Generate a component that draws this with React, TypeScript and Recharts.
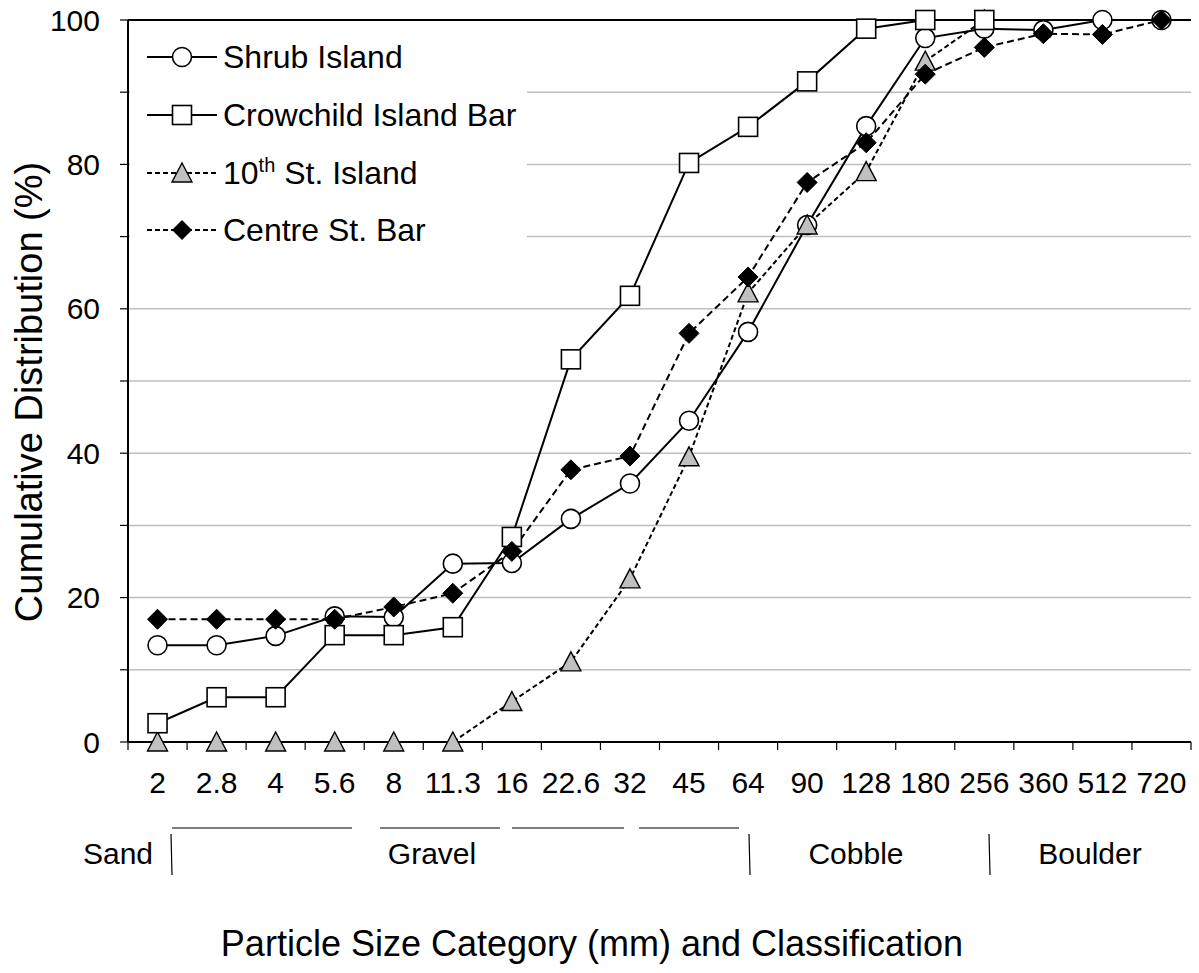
import React from 'react';
import { LineChart, Line, XAxis, YAxis, CartesianGrid, ReferenceLine } from 'recharts';

const SIZES = ['2', '2.8', '4', '5.6', '8', '11.3', '16', '22.6', '32', '45', '64', '90', '128', '180', '256', '360', '512', '720'];
const SHRUB = [13.4, 13.4, 14.7, 17.4, 17.3, 24.7, 24.8, 30.9, 35.8, 44.5, 56.8, 71.6, 85.3, 97.5, 98.8, 98.6, 100, 100];
const CROWCHILD = [2.6, 6.2, 6.2, 14.8, 14.8, 15.9, 28.4, 53.0, 61.8, 80.2, 85.2, 91.5, 98.8, 100, 100, null, null, null];
const TENTH = [0, 0, 0, 0, 0, 0, 5.6, 11.1, 22.6, 39.5, 62.2, 71.6, 79.0, 94.3, 100, null, null, null];
const CENTRE = [17.0, 17.0, 17.0, 17.0, 18.7, 20.6, 26.4, 37.7, 39.6, 56.6, 64.4, 77.5, 83.0, 92.5, 96.2, 98.1, 98.0, 100];
const Y_TICKS = [0, 10, 20, 30, 40, 50, 60, 70, 80, 90, 100];

const data = SIZES.map((s, i) => ({
  size: s,
  shrub: SHRUB[i],
  crow: CROWCHILD[i],
  tenth: TENTH[i],
  centre: CENTRE[i],
}));

const FONT = '"Liberation Sans", Arial, sans-serif';
const W = 1199;
const H = 973;
const LEFT = 128;
const RIGHT = 1191;
const BAND = (RIGHT - LEFT) / 18;

const CircleDot = (p: any) => {
  if (p.value == null || p.cy == null) return <g key={p.key} />;
  return <circle key={p.key} cx={p.cx} cy={p.cy} r={9.5} fill="#fff" stroke="#000" strokeWidth={1.6} />;
};
const SquareDot = (p: any) => {
  if (p.value == null || p.cy == null) return <g key={p.key} />;
  return <rect key={p.key} x={p.cx - 9.5} y={p.cy - 9.5} width={19} height={19} fill="#fff" stroke="#000" strokeWidth={1.6} />;
};
const TriDot = (p: any) => {
  if (p.value == null || p.cy == null) return <g key={p.key} />;
  const { cx, cy } = p;
  return <path key={p.key} d={`M${cx},${cy - 10} L${cx + 10},${cy + 9} L${cx - 10},${cy + 9} Z`} fill="#c0c0c0" stroke="#000" strokeWidth={1.4} />;
};
const DiaDot = (p: any) => {
  if (p.value == null || p.cy == null) return <g key={p.key} />;
  const { cx, cy } = p;
  return <path key={p.key} d={`M${cx},${cy - 10} L${cx + 10},${cy} L${cx},${cy + 10} L${cx - 10},${cy} Z`} fill="#000" stroke="#000" strokeWidth={1} />;
};

const XTick = (p: any) => {
  const { x, y, payload, index } = p;
  const bx = x - BAND / 2;
  return (
    <g>
      <line x1={bx} x2={bx} y1={y} y2={y + 8} stroke="#000" strokeWidth={1.2} />
      {index === SIZES.length - 1 && (
        <line x1={x + BAND / 2} x2={x + BAND / 2} y1={y} y2={y + 8} stroke="#000" strokeWidth={1.2} />
      )}
      <text x={x} y={y + 51} textAnchor="middle" fontSize={30} fontFamily={FONT} fill="#000">
        {payload.value}
      </text>
    </g>
  );
};

const LegendItem = ({ y, dash, marker, children }: any) => (
  <g>
    <line x1={147} x2={217} y1={y} y2={y} stroke="#000" strokeWidth={2} strokeDasharray={dash} />
    {marker === 'circle' && <circle cx={182} cy={y} r={9.5} fill="#fff" stroke="#000" strokeWidth={1.6} />}
    {marker === 'square' && <rect x={172.5} y={y - 9.5} width={19} height={19} fill="#fff" stroke="#000" strokeWidth={1.6} />}
    {marker === 'tri' && <path d={`M182,${y - 10} L192,${y + 9} L172,${y + 9} Z`} fill="#c0c0c0" stroke="#000" strokeWidth={1.4} />}
    {marker === 'dia' && <path d={`M182,${y - 10} L192,${y} L182,${y + 10} L172,${y} Z`} fill="#000" />}
    <text x={223} y={y + 11} fontSize={32} fontFamily={FONT} fill="#000">{children}</text>
  </g>
);

export default function App() {
  return (
    <div style={{ position: 'absolute', left: 0, top: 0, width: W, height: H, background: '#fff' }}>
      <LineChart width={W} height={H} data={data} margin={{ top: 20, right: W - RIGHT, bottom: 191, left: 0 }}>
        <CartesianGrid vertical={false} stroke="#bfbfbf" strokeWidth={1.5} />
        <XAxis
          dataKey="size"
          type="category"
          height={40}
          padding={{ left: BAND / 2, right: BAND / 2 }}
          tickSize={0}
          tickMargin={0}
          tick={<XTick />}
          interval={0}
          axisLine={{ stroke: '#000', strokeWidth: 2 }}
        />
        <YAxis
          domain={[0, 100]}
          ticks={Y_TICKS}
          width={LEFT}
          tickSize={8}
          tickMargin={20}
          interval={0}
          tickFormatter={(v: number) => (v % 20 === 0 ? String(v) : '')}
          tick={{ fill: '#000', fontSize: 30, fontFamily: FONT }}
          tickLine={{ stroke: '#000', strokeWidth: 1.2 }}
          axisLine={{ stroke: '#000', strokeWidth: 2 }}
        />
        <YAxis
          yAxisId="right"
          orientation="right"
          domain={[0, 100]}
          width={0}
          tick={false}
          tickLine={false}
          axisLine={{ stroke: '#000', strokeWidth: 2 }}
        />
        <ReferenceLine y={100} stroke="#000" strokeWidth={2} />
        <Line dataKey="shrub" stroke="#000" strokeWidth={2} dot={CircleDot} isAnimationActive={false} />
        <Line dataKey="tenth" stroke="#000" strokeWidth={2} strokeDasharray="5 3" dot={TriDot} isAnimationActive={false} />
        <Line dataKey="crow" stroke="#000" strokeWidth={2} dot={SquareDot} isAnimationActive={false} />
        <Line dataKey="centre" stroke="#000" strokeWidth={2} strokeDasharray="7 4" dot={DiaDot} isAnimationActive={false} />
      </LineChart>
      <svg width={W} height={H} style={{ position: 'absolute', left: 0, top: 0, pointerEvents: 'none' }}>
        <rect x={130} y={22} width={397} height={246} fill="#fff" />
        <LegendItem y={57} marker="circle">Shrub Island</LegendItem>
        <LegendItem y={115} marker="square">Crowchild Island Bar</LegendItem>
        <LegendItem y={173} marker="tri" dash="5 3">
          10<tspan fontSize={20} dy={-12}>th</tspan><tspan dy={12}> St. Island</tspan>
        </LegendItem>
        <LegendItem y={230} marker="dia" dash="5 3">Centre St. Bar</LegendItem>

        <g stroke="#000" strokeWidth={1.2}>
          <line x1={172} x2={352} y1={828} y2={828} />
          <line x1={380} x2={500} y1={828} y2={828} />
          <line x1={512} x2={624} y1={828} y2={828} />
          <line x1={639} x2={739} y1={828} y2={828} />
          <line x1={171} x2={172} y1={834} y2={875} />
          <line x1={749} x2={750} y1={834} y2={875} />
          <line x1={989} x2={990} y1={834} y2={875} />
        </g>
        <g fontSize={30} fontFamily={FONT} fill="#000" textAnchor="middle">
          <text x={118} y={864}>Sand</text>
          <text x={432} y={864}>Gravel</text>
          <text x={856} y={864}>Cobble</text>
          <text x={1090} y={864}>Boulder</text>
        </g>
        <text x={592} y={956} fontSize={36} fontFamily={FONT} fill="#000" textAnchor="middle">
          Particle Size Category (mm) and Classification
        </text>
        <text
          x={0}
          y={0}
          transform="translate(42,392) rotate(-90)"
          fontSize={38}
          fontFamily={FONT}
          fill="#000"
          textAnchor="middle"
        >
          Cumulative Distribution (%)
        </text>
      </svg>
    </div>
  );
}
